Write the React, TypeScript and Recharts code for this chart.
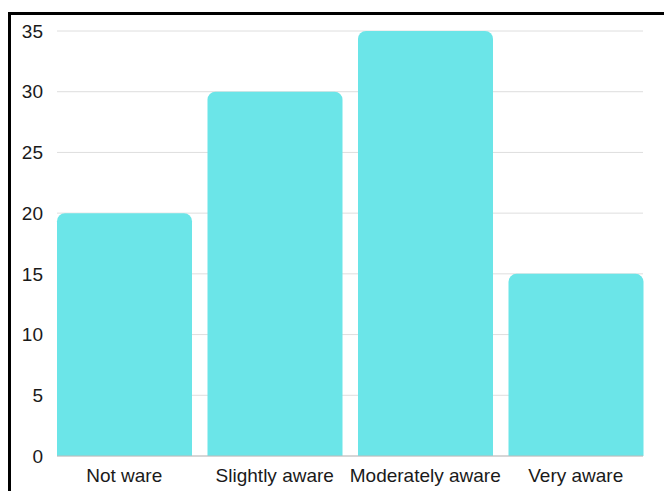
import React from 'react';
import { BarChart, Bar, XAxis, YAxis, CartesianGrid } from 'recharts';

const categories = ['Not ware', 'Slightly aware', 'Moderately aware', 'Very aware'];
const counts = [20, 30, 35, 15];
const yTicks = [0, 5, 10, 15, 20, 25, 30, 35];

const data = categories.map((name, i) => ({ name, value: counts[i] }));

const tickStyle = { fill: '#1a1a1a', fontSize: 19, fontFamily: '"Liberation Sans", Arial, sans-serif' };

const App: React.FC = () => {
  return (
    <div style={{ position: 'fixed', left: 0, top: 0, width: 664, height: 491, overflow: 'hidden', background: '#fff' }}>
      {/* framed panel, runs past the window edges */}
      <div
        style={{
          position: 'absolute',
          left: 8,
          top: 12,
          width: 720,
          height: 560,
          border: '3px solid #000',
          boxSizing: 'border-box',
        }}
      />
      <div style={{ position: 'absolute', left: 0, top: 0 }}>
        <BarChart
          width={664}
          height={491}
          data={data}
          margin={{ top: 31, right: 21, bottom: 0, left: 0 }}
          barCategoryGap={8}
        >
          <CartesianGrid vertical={false} stroke="#dedede" />
          <XAxis
            dataKey="name"
            height={35}
            padding={{ left: -8, right: -8 }}
            tickLine={false}
            tickSize={0}
            tickMargin={13}
            axisLine={{ stroke: '#bdbdbd' }}
            tick={tickStyle}
            interval={0}
          />
          <YAxis
            width={57}
            domain={[0, 35]}
            ticks={yTicks}
            axisLine={false}
            tickLine={false}
            tickSize={0}
            tickMargin={14}
            tick={tickStyle}
          />
          <Bar dataKey="value" fill="#6be5e8" radius={[8, 8, 0, 0]} isAnimationActive={false} />
        </BarChart>
      </div>
    </div>
  );
};

export default App;
